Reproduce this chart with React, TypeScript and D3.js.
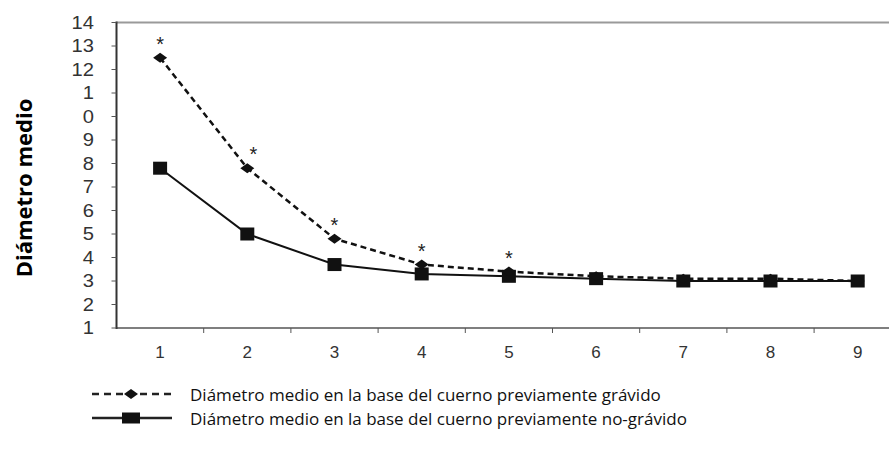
import React from "react";
import * as d3 from "d3";

// Category positions along the x axis
const categories = [1, 2, 3, 4, 5, 6, 7, 8, 9];
// Mean diameter at the base of the previously pregnant horn
const gravidValues = [12.5, 7.8, 4.8, 3.7, 3.4, 3.2, 3.1, 3.1, 3.0];
// Mean diameter at the base of the previously non-pregnant horn
const nonGravidValues = [7.8, 5.0, 3.7, 3.3, 3.2, 3.1, 3.0, 3.0, 3.0];
// Categories flagged with a significant difference
const significant = [true, true, true, true, true, false, false, false, false];
// Y tick values and the labels printed next to them
const yTickValues = [14, 13, 12, 11, 10, 9, 8, 7, 6, 5, 4, 3, 2, 1];
const yTickLabels = ["14", "13", "12", "1", "0", "9", "8", "7", "6", "5", "4", "3", "2", "1"];
const legendLabels = [
  "Diámetro medio en la base del cuerno previamente grávido",
  "Diámetro medio en la base del cuerno previamente no-grávido",
];
const yTitle = "Diámetro medio";

const W = 889;
const H = 453;
const plotLeft = 116.5;
const plotTop = 22.5;
const plotBottom = 328;
const bandWidth = 87.2;

export default function App() {
  const x = d3
    .scaleBand<number>()
    .domain(categories)
    .range([plotLeft, plotLeft + bandWidth * categories.length])
    .padding(0);
  const y = d3.scaleLinear().domain([1, 14]).range([plotBottom, plotTop]);
  const cx = (c: number) => (x(c) as number) + x.bandwidth() / 2;

  const line = d3
    .line<number>()
    .x((_, i) => cx(categories[i]))
    .y((d) => y(d));

  const tickFont = "'Liberation Sans', Arial, sans-serif";
  const diamond = (px: number, py: number) =>
    `M${px - 7},${py} L${px},${py - 5} L${px + 7},${py} L${px},${py + 5} Z`;

  return (
    <svg
      width={W}
      height={H}
      style={{ position: "absolute", left: 0, top: 0, background: "#fff" }}
    >
      {/* frame: top border and axes */}
      <line x1={plotLeft} x2={W} y1={plotTop} y2={plotTop} stroke="#9a9a9a" strokeWidth={2} />
      <line x1={plotLeft} x2={W} y1={plotBottom} y2={plotBottom} stroke="#555" strokeWidth={1.5} />
      <line x1={plotLeft} x2={plotLeft} y1={plotTop - 1} y2={plotBottom + 1} stroke="#333" strokeWidth={2} />

      {/* y ticks */}
      {yTickValues.map((v, i) => (
        <g key={`yt${i}`}>
          <line x1={plotLeft - 5} x2={plotLeft} y1={y(v)} y2={y(v)} stroke="#555" strokeWidth={1} />
          <text
            x={94}
            y={y(v)}
            textAnchor="end"
            dominantBaseline="central"
            fontFamily={tickFont}
            fontSize={18}
            fill="#333"
            transform={`translate(94, 0) scale(1.12, 1) translate(-94, 0)`}
          >
            {yTickLabels[i]}
          </text>
        </g>
      ))}

      {/* x ticks at band boundaries and category labels */}
      {categories.map((c) => (
        <g key={`xt${c}`}>
          <line
            x1={(x(c) as number) + x.bandwidth()}
            x2={(x(c) as number) + x.bandwidth()}
            y1={plotBottom}
            y2={plotBottom + 5}
            stroke="#555"
            strokeWidth={1}
          />
          <text
            x={cx(c)}
            y={352}
            textAnchor="middle"
            dominantBaseline="central"
            fontFamily={tickFont}
            fontSize={17}
            fill="#333"
          >
            {c}
          </text>
        </g>
      ))}

      {/* series lines */}
      <path d={line(nonGravidValues) || ""} fill="none" stroke="#111" strokeWidth={2} />
      <path
        d={line(gravidValues) || ""}
        fill="none"
        stroke="#111"
        strokeWidth={2.5}
        strokeDasharray="6,4"
      />

      {/* markers */}
      {nonGravidValues.map((v, i) => (
        <rect
          key={`sq${i}`}
          x={cx(categories[i]) - 7}
          y={y(v) - 6.5}
          width={14}
          height={13}
          fill="#111"
        />
      ))}
      {gravidValues.map((v, i) => (
        <path key={`dm${i}`} d={diamond(cx(categories[i]), y(v))} fill="#111" />
      ))}

      {/* significance marks */}
      {gravidValues.map((v, i) =>
        significant[i] ? (
          <text
            key={`ast${i}`}
            x={cx(categories[i]) + (i === 1 ? 6 : 0)}
            y={y(v) - 7}
            textAnchor="middle"
            fontFamily={tickFont}
            fontSize={20}
            fill="#222"
          >
            *
          </text>
        ) : null
      )}

      {/* y axis title */}
      <text
        transform={`translate(23, ${188}) rotate(-90)`}
        textAnchor="middle"
        dominantBaseline="central"
        fontFamily="'Open Sans', 'Liberation Sans', sans-serif"
        fontWeight="bold"
        fontSize={22}
        fill="#000"
      >
        {yTitle}
      </text>

      {/* legend */}
      <g>
        <line x1={92} x2={172} y1={394} y2={394} stroke="#222" strokeWidth={2.5} strokeDasharray="7,5" />
        <path d={diamond(131, 394)} fill="#111" />
        <text
          x={190}
          y={394}
          dominantBaseline="central"
          fontFamily="'Open Sans', sans-serif"
          fontSize={17}
          fill="#111"
        >
          {legendLabels[0]}
        </text>
        <line x1={92} x2={172} y1={418} y2={418} stroke="#222" strokeWidth={2.5} />
        <rect x={122} y={412.5} width={18} height={11} fill="#111" />
        <text
          x={190}
          y={418}
          dominantBaseline="central"
          fontFamily="'Open Sans', sans-serif"
          fontSize={17}
          fill="#111"
        >
          {legendLabels[1]}
        </text>
      </g>
    </svg>
  );
}
